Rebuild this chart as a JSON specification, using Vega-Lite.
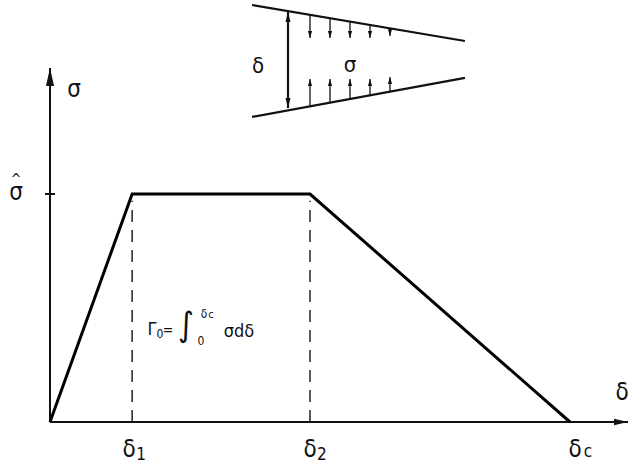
{
  "$schema": "https://vega.github.io/schema/vega-lite/v6.json",
  "description": "Trapezoidal cohesive law: traction sigma against opening delta, with the crack-tip sketch above.",
  "width": 629,
  "height": 470,
  "autosize": {"type": "none"},
  "padding": 0,
  "background": "white",
  "config": {
    "view": {"stroke": null},
    "text": {"font": "'DejaVu Sans Condensed', 'DejaVu Sans', sans-serif", "color": "#111", "align": "center", "baseline": "alphabetic"},
    "point": {"filled": true, "opacity": 1, "color": "#111", "strokeWidth": 0}
  },
  "datasets": {
    "law": [
      {"x": 0, "y": 0},
      {"x": 0.158, "y": 1},
      {"x": 0.5, "y": 1},
      {"x": 1.0, "y": 0}
    ],
    "axes": [
      {"x": 0, "y": 0, "x2": 1.1115, "y2": 0},
      {"x": 0, "y": 0, "x2": 0, "y2": 1.5526}
    ],
    "peakTick": [
      {"x": -0.0096, "y": 1, "x2": 0.0096, "y2": 1}
    ],
    "guides": [
      {"x": 0.158, "y": 0, "x2": 0.158, "y2": 0.97},
      {"x": 0.5, "y": 0, "x2": 0.5, "y2": 0.97}
    ],
    "axisHeads": [
      {"x": 1.1115, "y": 0, "dir": "right"},
      {"x": 0, "y": 1.5526, "dir": "up"}
    ],
    "faces": [
      {"x": 0.3885, "y": 1.829, "x2": 0.798, "y2": 1.671},
      {"x": 0.3885, "y": 1.338, "x2": 0.798, "y2": 1.509},
      {"x": 0.4577, "y": 1.377, "x2": 0.4577, "y2": 1.798}
    ],
    "openingHeads": [
      {"x": 0.4577, "y": 1.798, "dir": "up"},
      {"x": 0.4577, "y": 1.377, "dir": "down"}
    ],
    "tractions": [
      {"x": 0.5, "y": 1.786, "x2": 0.5, "y2": 1.684},
      {"x": 0.5385, "y": 1.771, "x2": 0.5385, "y2": 1.684},
      {"x": 0.5769, "y": 1.756, "x2": 0.5769, "y2": 1.684},
      {"x": 0.6154, "y": 1.742, "x2": 0.6154, "y2": 1.684},
      {"x": 0.6538, "y": 1.727, "x2": 0.6538, "y2": 1.693},
      {"x": 0.5, "y": 1.384, "x2": 0.5, "y2": 1.504},
      {"x": 0.5385, "y": 1.4, "x2": 0.5385, "y2": 1.504},
      {"x": 0.5769, "y": 1.416, "x2": 0.5769, "y2": 1.504},
      {"x": 0.6154, "y": 1.432, "x2": 0.6154, "y2": 1.504},
      {"x": 0.6538, "y": 1.449, "x2": 0.6538, "y2": 1.513}
    ],
    "tractionHeads": [
      {"x": 0.5, "y": 1.684, "dir": "down"},
      {"x": 0.5385, "y": 1.684, "dir": "down"},
      {"x": 0.5769, "y": 1.684, "dir": "down"},
      {"x": 0.6154, "y": 1.684, "dir": "down"},
      {"x": 0.6538, "y": 1.693, "dir": "down"},
      {"x": 0.5, "y": 1.504, "dir": "up"},
      {"x": 0.5385, "y": 1.504, "dir": "up"},
      {"x": 0.5769, "y": 1.504, "dir": "up"},
      {"x": 0.6154, "y": 1.504, "dir": "up"},
      {"x": 0.6538, "y": 1.513, "dir": "up"}
    ],
    "symbols": [
      {"x": 0.0462, "y": 1.4254, "label": "σ"},
      {"x": -0.0654, "y": 0.9737, "label": "σ"},
      {"x": 1.1, "y": 0.0965, "label": "δ"},
      {"x": 0.152, "y": -0.1535, "label": "δ"},
      {"x": 0.5, "y": -0.1535, "label": "δ"},
      {"x": 1.01, "y": -0.1535, "label": "δ"}
    ],
    "hat": [
      {"x": -0.0654, "y": 1.045, "label": "^"}
    ],
    "subscripts": [
      {"x": 0.175, "y": -0.1667, "label": "1"},
      {"x": 0.523, "y": -0.1667, "label": "2"},
      {"x": 1.0345, "y": -0.1535, "label": "c"}
    ],
    "insetSymbols": [
      {"x": 0.4, "y": 1.5307, "label": "δ"},
      {"x": 0.5769, "y": 1.5351, "label": "σ"}
    ],
    "formula": [
      {"x": 0.1962, "y": 0.3816, "label": "Γ"},
      {"x": 0.3635, "y": 0.3728, "label": "σdδ"}
    ],
    "equals": [
      {"x": 0.2269, "y": 0.3816, "label": "="}
    ],
    "formulaSmall": [
      {"x": 0.2115, "y": 0.3684, "label": "0"},
      {"x": 0.2904, "y": 0.3377, "label": "0"},
      {"x": 0.2962, "y": 0.4561, "label": "δ"}
    ],
    "formulaTiny": [
      {"x": 0.3096, "y": 0.4561, "label": "c"}
    ],
    "integral": [
      {"x": 0.2615, "y": 0.421, "label": "∫"}
    ]
  },
  "encoding": {
    "x": {"field": "x", "type": "quantitative", "axis": null, "scale": {"domain": [-0.09615, 1.11346], "nice": false, "zero": false}},
    "y": {"field": "y", "type": "quantitative", "axis": null, "scale": {"domain": [-0.21053, 1.85088], "nice": false, "zero": false}}
  },
  "layer": [
    {
      "data": {"name": "guides"},
      "mark": {"type": "rule", "color": "#222", "strokeWidth": 1.5, "strokeDash": [12, 8]},
      "encoding": {"x2": {"field": "x2"}, "y2": {"field": "y2"}}
    },
    {
      "data": {"name": "axes"},
      "mark": {"type": "rule", "color": "#111", "strokeWidth": 2},
      "encoding": {"x2": {"field": "x2"}, "y2": {"field": "y2"}}
    },
    {
      "data": {"name": "peakTick"},
      "mark": {"type": "rule", "color": "#111", "strokeWidth": 2},
      "encoding": {"x2": {"field": "x2"}, "y2": {"field": "y2"}}
    },
    {
      "data": {"name": "axisHeads"},
      "transform": [{"filter": "datum.dir === 'up'"}],
      "mark": {"type": "point", "shape": "M0,-1L-0.45,1L0.45,1Z", "size": 324, "yOffset": 9}
    },
    {
      "data": {"name": "axisHeads"},
      "transform": [{"filter": "datum.dir === 'right'"}],
      "mark": {"type": "point", "shape": "M1,0L-1,-0.45L-1,0.45Z", "size": 196, "xOffset": -7}
    },
    {
      "data": {"name": "law"},
      "mark": {"type": "line", "color": "#000", "strokeWidth": 3, "strokeJoin": "miter"},
      "encoding": {"order": {"field": "x", "type": "quantitative"}}
    },
    {
      "data": {"name": "faces"},
      "mark": {"type": "rule", "color": "#111", "strokeWidth": 2.2},
      "encoding": {"x2": {"field": "x2"}, "y2": {"field": "y2"}}
    },
    {
      "data": {"name": "openingHeads"},
      "transform": [{"filter": "datum.dir === 'up'"}],
      "mark": {"type": "point", "shape": "M0,-1L-0.5,1L0.5,1Z", "size": 100, "yOffset": 5}
    },
    {
      "data": {"name": "openingHeads"},
      "transform": [{"filter": "datum.dir === 'down'"}],
      "mark": {"type": "point", "shape": "M0,1L-0.5,-1L0.5,-1Z", "size": 100, "yOffset": -5}
    },
    {
      "data": {"name": "tractions"},
      "mark": {"type": "rule", "color": "#111", "strokeWidth": 1.3},
      "encoding": {"x2": {"field": "x2"}, "y2": {"field": "y2"}}
    },
    {
      "data": {"name": "tractionHeads"},
      "transform": [{"filter": "datum.dir === 'up'"}],
      "mark": {"type": "point", "shape": "M0,-1L-0.6,1L0.6,1Z", "size": 49, "yOffset": 3.5}
    },
    {
      "data": {"name": "tractionHeads"},
      "transform": [{"filter": "datum.dir === 'down'"}],
      "mark": {"type": "point", "shape": "M0,1L-0.6,-1L0.6,-1Z", "size": 49, "yOffset": -3.5}
    },
    {
      "data": {"name": "symbols"},
      "mark": {"type": "text", "fontSize": 24},
      "encoding": {"text": {"field": "label"}}
    },
    {
      "data": {"name": "hat"},
      "mark": {"type": "text", "fontSize": 14},
      "encoding": {"text": {"field": "label"}}
    },
    {
      "data": {"name": "subscripts"},
      "mark": {"type": "text", "fontSize": 17},
      "encoding": {"text": {"field": "label"}}
    },
    {
      "data": {"name": "insetSymbols"},
      "mark": {"type": "text", "fontSize": 22},
      "encoding": {"text": {"field": "label"}}
    },
    {
      "data": {"name": "formula"},
      "mark": {"type": "text", "fontSize": 18},
      "encoding": {"text": {"field": "label"}}
    },
    {
      "data": {"name": "equals"},
      "mark": {"type": "text", "fontSize": 14},
      "encoding": {"text": {"field": "label"}}
    },
    {
      "data": {"name": "formulaSmall"},
      "mark": {"type": "text", "fontSize": 12},
      "encoding": {"text": {"field": "label"}}
    },
    {
      "data": {"name": "formulaTiny"},
      "mark": {"type": "text", "fontSize": 11},
      "encoding": {"text": {"field": "label"}}
    },
    {
      "data": {"name": "integral"},
      "mark": {"type": "text", "fontSize": 34, "baseline": "middle"},
      "encoding": {"text": {"field": "label"}}
    }
  ]
}
